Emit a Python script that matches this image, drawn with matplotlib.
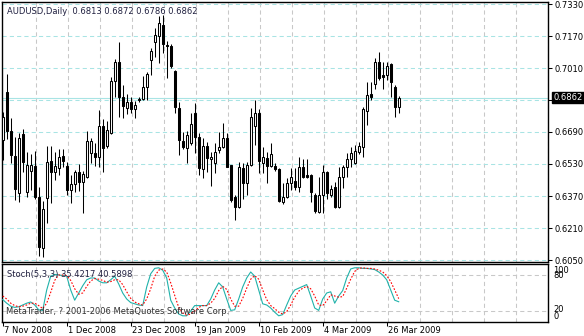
import matplotlib.pyplot as plt
import numpy as np

# ---- data (AUDUSD daily, 7 Nov 2008 .. end Mar 2009)
open_ = [0.6650, 0.6890, 0.6695, 0.6570, 0.6385, 0.6680, 0.6390, 0.6495, 0.6520, 0.6365,
         0.6110, 0.6360, 0.6545, 0.6490, 0.6510, 0.6570, 0.6520, 0.6400, 0.6430, 0.6490,
         0.6440, 0.6465, 0.6585, 0.6585, 0.6565, 0.6720, 0.6620, 0.6685, 0.6945, 0.7040,
         0.6865, 0.6810, 0.6840, 0.6805, 0.6855, 0.6855, 0.6915, 0.7050, 0.7140, 0.7170,
         0.7225, 0.7125, 0.7120, 0.6995, 0.6810, 0.6645, 0.6610, 0.6635, 0.6785, 0.6665,
         0.6505, 0.6620, 0.6555, 0.6535, 0.6600, 0.6615, 0.6660, 0.6525, 0.6365, 0.6315,
         0.6510, 0.6435, 0.6525, 0.6720, 0.6785, 0.6535, 0.6560, 0.6520, 0.6520, 0.6505,
         0.6340, 0.6365, 0.6435, 0.6445, 0.6415, 0.6515, 0.6475, 0.6475, 0.6375, 0.6290,
         0.6375, 0.6490, 0.6375, 0.6415, 0.6315, 0.6465, 0.6515, 0.6555, 0.6535, 0.6590,
         0.6615, 0.6795, 0.6880, 0.6930, 0.7040, 0.6975, 0.6975, 0.7030, 0.6915, 0.6813]
high = [0.6790, 0.6980, 0.6760, 0.6665, 0.6685, 0.6705, 0.6590, 0.6580, 0.6595, 0.6415,
        0.6345, 0.6620, 0.6620, 0.6590, 0.6605, 0.6605, 0.6540, 0.6475, 0.6500, 0.6530,
        0.6495, 0.6695, 0.6660, 0.6635, 0.6800, 0.6755, 0.6745, 0.6965, 0.7055, 0.7140,
        0.6925, 0.6880, 0.6865, 0.6845, 0.6865, 0.6970, 0.6990, 0.7110, 0.7210, 0.7270,
        0.7275, 0.7145, 0.7130, 0.7000, 0.6840, 0.6690, 0.6695, 0.6785, 0.6835, 0.6685,
        0.6660, 0.6640, 0.6590, 0.6635, 0.6690, 0.6735, 0.6685, 0.6525, 0.6375, 0.6540,
        0.6535, 0.6540, 0.6810, 0.6850, 0.6805, 0.6615, 0.6590, 0.6635, 0.6535, 0.6510,
        0.6435, 0.6460, 0.6510, 0.6510, 0.6565, 0.6555, 0.6555, 0.6480, 0.6385, 0.6465,
        0.6525, 0.6495, 0.6425, 0.6440, 0.6515, 0.6525, 0.6585, 0.6615, 0.6625, 0.6640,
        0.6815, 0.6940, 0.6940, 0.7060, 0.7090, 0.7040, 0.7040, 0.7035, 0.6925, 0.6872]
low = [0.6550, 0.6655, 0.6535, 0.6350, 0.6340, 0.6490, 0.6365, 0.6400, 0.6355, 0.6070,
       0.6065, 0.6235, 0.6335, 0.6450, 0.6475, 0.6515, 0.6375, 0.6335, 0.6390, 0.6395,
       0.6285, 0.6460, 0.6535, 0.6520, 0.6515, 0.6490, 0.6610, 0.6680, 0.6865, 0.6765,
       0.6760, 0.6780, 0.6785, 0.6760, 0.6840, 0.6850, 0.6850, 0.6975, 0.7065, 0.7035,
       0.7085, 0.6960, 0.7010, 0.6785, 0.6575, 0.6605, 0.6535, 0.6625, 0.6585, 0.6475,
       0.6460, 0.6490, 0.6420, 0.6485, 0.6585, 0.6610, 0.6515, 0.6340, 0.6250, 0.6310,
       0.6355, 0.6375, 0.6520, 0.6625, 0.6485, 0.6485, 0.6435, 0.6515, 0.6495, 0.6340,
       0.6330, 0.6360, 0.6400, 0.6400, 0.6390, 0.6460, 0.6460, 0.6340, 0.6285, 0.6285,
       0.6285, 0.6355, 0.6365, 0.6310, 0.6310, 0.6410, 0.6465, 0.6515, 0.6530, 0.6580,
       0.6565, 0.6725, 0.6850, 0.6905, 0.6950, 0.6905, 0.6950, 0.6865, 0.6765, 0.6786]
close = [0.6765, 0.6695, 0.6575, 0.6405, 0.6660, 0.6540, 0.6525, 0.6525, 0.6365, 0.6115,
         0.6305, 0.6540, 0.6490, 0.6520, 0.6565, 0.6545, 0.6400, 0.6430, 0.6490, 0.6440,
         0.6480, 0.6645, 0.6645, 0.6565, 0.6720, 0.6610, 0.6700, 0.6945, 0.7040, 0.6865,
         0.6820, 0.6840, 0.6805, 0.6825, 0.6850, 0.6915, 0.6980, 0.7095, 0.7175, 0.7235,
         0.7130, 0.7120, 0.7020, 0.6815, 0.6650, 0.6615, 0.6675, 0.6730, 0.6665, 0.6510,
         0.6620, 0.6560, 0.6565, 0.6590, 0.6615, 0.6660, 0.6515, 0.6350, 0.6315, 0.6515,
         0.6435, 0.6525, 0.6765, 0.6785, 0.6545, 0.6565, 0.6520, 0.6580, 0.6505, 0.6345,
         0.6365, 0.6435, 0.6465, 0.6415, 0.6515, 0.6465, 0.6465, 0.6390, 0.6295, 0.6375,
         0.6490, 0.6385, 0.6405, 0.6315, 0.6465, 0.6515, 0.6555, 0.6585, 0.6595, 0.6620,
         0.6805, 0.6875, 0.6865, 0.7040, 0.6960, 0.6965, 0.7020, 0.6940, 0.6815, 0.6862]

# Stoch(5,3,3): main (%K) and signal (%D)
stoch_main = [39, 33, 28, 26, 27, 30, 33, 35, 30, 22,
              21, 55, 78, 81, 80, 79, 78, 55, 38, 50,
              62, 72, 75, 75, 70, 67, 67, 72, 78, 65,
              50, 40, 34, 32, 30, 29, 60, 82, 91, 92,
              88, 75, 38, 25, 15, 12, 12, 20, 29, 29,
              29, 29, 40, 55, 67, 60, 40, 21, 22, 40,
              60, 75, 85, 78, 55, 32, 30, 25, 18, 12,
              14, 30, 45, 55, 58, 61, 64, 45, 25, 21,
              40, 50, 52, 33, 45, 54, 75, 90, 92, 92,
              91, 91, 90, 89, 85, 80, 72, 55, 38, 35.42]
stoch_signal = [45, 40, 33, 29, 27, 28, 30, 33, 33, 29,
                24, 33, 51, 71, 80, 80, 79, 71, 57, 48,
                50, 61, 70, 74, 73, 71, 68, 69, 72, 72,
                64, 52, 41, 35, 32, 30, 40, 57, 78, 88,
                90, 85, 67, 46, 26, 17, 13, 15, 20, 26,
                29, 29, 33, 41, 54, 61, 56, 40, 28, 28,
                41, 58, 73, 79, 73, 55, 39, 29, 24, 18,
                15, 19, 30, 43, 53, 58, 61, 57, 45, 30,
                29, 37, 47, 45, 43, 44, 58, 73, 86, 91,
                92, 91, 91, 90, 88, 85, 79, 69, 55, 40.59]

date_bars = [0, 16, 32, 48, 64, 80, 96]
date_labels = ['7 Nov 2008', '1 Dec 2008', '23 Dec 2008', '19 Jan 2009',
               '10 Feb 2009', '4 Mar 2009', '26 Mar 2009']
price_levels = [0.7330, 0.7170, 0.7010, 0.6850, 0.6690, 0.6530, 0.6370, 0.6210, 0.6050]
price_labels = ['0.7330', '0.7170', '0.7010', '', '0.6690', '0.6530', '0.6370', '0.6210', '0.6050']

plt.rcParams['font.family'] = 'DejaVu Sans'
plt.rcParams['font.size'] = 6

W, H = 584, 336
fig = plt.figure(figsize=(W / 100, H / 100), dpi=100)


def box(x0, y0, x1, y1):
    return [x0 / W, 1 - y1 / H, (x1 - x0) / W, (y1 - y0) / H]


ax = fig.add_axes(box(2, 2, 548, 262))
ax2 = fig.add_axes(box(2, 264, 548, 322))

x = np.arange(len(close))
o = np.array(open_)
c = np.array(close)
up = c >= o
grid_c = '#a8e4e4'
vgrid_c = '#c8c8c8'

# vertical grid
for gx in np.arange(8.25, 137, 8):
    ax.axvline(gx, color=vgrid_c, lw=0.75, ls=(0, (4, 3)), zorder=0)
    ax2.axvline(gx, color=vgrid_c, lw=0.75, ls=(0, (4, 3)), zorder=0)
for lv in price_levels:
    ax.axhline(lv, color=grid_c, lw=0.75, ls=(0, (4, 3)), zorder=0)

# current price line
ax.axhline(close[-1], color=grid_c, lw=0.8, zorder=1)

# candles
ax.vlines(x, low, high, color='black', lw=0.75, zorder=2)
ax.bar(x[up], (c - o)[up], bottom=o[up], width=0.55, color='white',
       edgecolor='black', lw=0.75, zorder=3)
ax.bar(x[~up], (o - c)[~up], bottom=c[~up], width=0.55, color='black',
       edgecolor='black', lw=0.75, zorder=3)

ax.set_xlim(-0.175, 136.325)
ax.set_ylim(0.6040, 0.7340)
ax.set_xticks([])
ax.yaxis.tick_right()
ax.set_yticks(price_levels)
ax.set_yticklabels(price_labels)
ax.tick_params(axis='y', length=3, width=0.75, pad=1.5, labelsize=6)
for s in ax.spines.values():
    s.set_linewidth(1)

# current price box
ax.annotate('0.6862', xy=(1.0, close[-1]), xycoords=('axes fraction', 'data'),
            xytext=(4, 0), textcoords='offset points', va='center', ha='left',
            color='white', fontsize=6,
            bbox=dict(boxstyle='square,pad=0.15', fc='black', ec='black'))

fig.text(7 / W, 1 - 11 / H, 'AUDUSD,Daily  0.6813 0.6872 0.6786 0.6862',
         color='#202040', va='center', ha='left', fontsize=6)

# stochastic panel
ax2.axhline(80, color=vgrid_c, lw=0.75, ls=(0, (4, 3)), zorder=0)
ax2.axhline(20, color=vgrid_c, lw=0.75, ls=(0, (4, 3)), zorder=0)
ax2.plot(x, stoch_main, color='#20b2aa', lw=0.8, zorder=3)
ax2.plot(x, stoch_signal, color='red', lw=0.8, ls=(0, (1.5, 1.5)), zorder=3)
ax2.set_xlim(-0.175, 136.325)
ax2.set_ylim(1.67, 98.3)
ax2.set_yticks([])
ax2.set_xticks(date_bars)
ax2.set_xticklabels([])
ax2.tick_params(axis='x', length=3, width=0.75)
for s in ax2.spines.values():
    s.set_linewidth(1)

for b, lab in zip(date_bars, date_labels):
    ax2.annotate(lab, xy=(b, 0), xycoords=('data', 'axes fraction'),
                 xytext=(0.8, -6.0), textcoords='offset points',
                 ha='left', va='center', fontsize=6, color='black')

fig.text(7 / W, 1 - 275 / H, 'Stoch(5,3,3) 35.4217 40.5898', color='#202040',
         va='center', ha='left', fontsize=6)
fig.text(6 / W, 1 - 312 / H, 'MetaTrader, ? 2001-2006 MetaQuotes Software Corp.',
         color='#303030', va='center', ha='left', fontsize=6)
for ty, lab in [(270.5, '100'), (276, '80'), (310, '20'), (316.5, '0')]:
    fig.text(553 / W, 1 - ty / H, lab, va='center', ha='left', fontsize=6)

fig.savefig('out.png', dpi=100, facecolor='white')
